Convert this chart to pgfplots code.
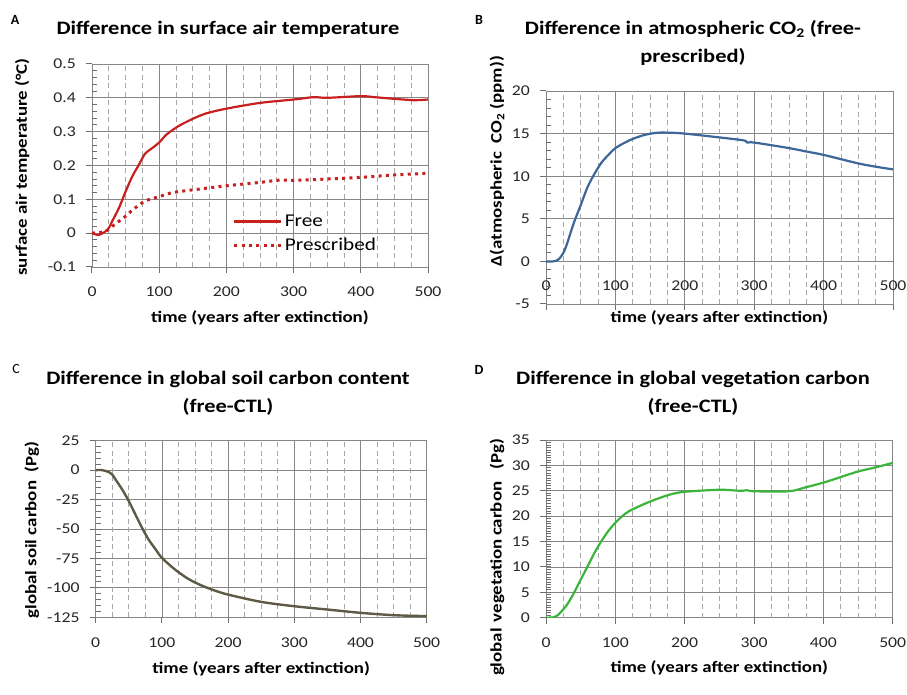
\documentclass[border=0pt]{standalone}
\usepackage{fontspec}
\setmainfont{Carlito}
\newfontfamily\stretchfont{Carlito}[FakeStretch=1.18]
\usepackage{pgfplots}
\pgfplotsset{compat=1.18}

\definecolor{gridgray}{HTML}{868686}
\definecolor{gridlight}{HTML}{A6A6A6}
\definecolor{tickgray}{HTML}{6E6E6E}
\definecolor{freered}{HTML}{C8201F}
\definecolor{co2blue}{HTML}{3D6699}
\definecolor{soilolive}{HTML}{5E5A45}
\definecolor{veggreen}{HTML}{3AB53A}

\pgfplotsset{
  panel/.style={
    scale only axis,
    xmin=0, xmax=500,
    xtick={0,100,...,500},
    xmajorgrids, ymajorgrids,
    major grid style={gridgray, line width=0.8pt},
    axis line style={gridgray, line width=0.8pt},
    tick align=outside,
    major tick length=6pt,
    every tick/.style={tickgray, line width=1pt},
    xtick pos=bottom, ytick pos=left,
    % dashed vertical lines every 25 years, no labels
    extra x ticks={25,50,75,125,150,175,225,250,275,325,350,375,425,450,475},
    extra x tick labels={},
    extra x tick style={major tick length=0pt,
      major grid style={gridlight, line width=0.7pt, dash pattern=on 5pt off 3.5pt}},
    /pgf/number format/assume math mode=true,
    /pgf/number format/fixed,
    tick label style={font=\stretchfont\fontsize{15}{15}\selectfont, text=black!85, inner sep=0pt},
    yticklabel style={anchor=east, xshift=-10pt},
    xticklabel style={anchor=center, yshift=-19pt},
    label style={font=\stretchfont\bfseries\fontsize{16}{16}\selectfont, anchor=center},
    xlabel={time (years after extinction)},
  },
  % short inside marks between the y ticks
  yminor/.style={extra y ticks={#1}, extra y tick labels={},
    extra y tick style={ymajorgrids=false, tick align=inside, major tick length=5pt}},
}

\begin{document}
\begin{tikzpicture}
\path[use as bounding box] (0,0) rectangle (907pt,694pt);

% panel letters and titles
\node[font=\bfseries\fontsize{14}{14}\selectfont] at (15pt,674pt) {A};
\node[font=\bfseries\fontsize{14}{14}\selectfont] at (479pt,674pt) {B};
\node[font=\fontsize{14}{14}\selectfont] at (16pt,325pt) {C};
\node[font=\bfseries\fontsize{14}{14}\selectfont] at (479pt,324pt) {D};

\node[font=\stretchfont\bfseries\fontsize{19}{28}\selectfont] at (228pt,665pt) {Difference in surface air temperature};
\node[font=\stretchfont\bfseries\fontsize{19}{28}\selectfont, align=center] at (693pt,651pt) {Difference in atmospheric CO\textsubscript{2} (free-\\prescribed)};
\node[font=\stretchfont\bfseries\fontsize{19}{28}\selectfont, align=center] at (228pt,301pt) {Difference in global soil carbon content\\(free-CTL)};
\node[font=\stretchfont\bfseries\fontsize{19}{28}\selectfont, align=center] at (693pt,301pt) {Difference in global vegetation carbon\\(free-CTL)};

% A: surface air temperature
\begin{axis}[panel, at={(92pt,427pt)}, anchor=south west, width=336pt, height=203pt,
  ymin=-0.1, ymax=0.5, ytick={-0.1,0,0.1,0.2,0.3,0.4,0.5},
  yminor={-0.08,-0.06,-0.04,-0.02,0.02,0.04,0.06,0.08,0.12,0.14,0.16,0.18,0.22,0.24,0.26,0.28,0.32,0.34,0.36,0.38,0.42,0.44,0.46,0.48},
  ylabel={surface air temperature (°C)},
  xlabel style={at={(axis description cs:0.5,-0.251)}},
  ylabel style={at={(axis description cs:-0.208,0.493)}},
  legend style={at={(axis description cs:0.41,0.165)}, anchor=west, draw=none, fill=none,
    font=\stretchfont\fontsize{18}{18}\selectfont, row sep=6pt},
  legend cell align=left,
  legend image code/.code={\draw[#1] (0pt,0pt) -- (47pt,0pt);}]
\addplot[freered, line width=2.2pt, smooth, tension=0.5] coordinates {
(0,0) (10,-0.005) (20,0.005) (25,0.015) (30,0.035) (40,0.074) (50,0.123) (60,0.168)
(70,0.203) (75,0.222) (80,0.237) (90,0.252) (100,0.268) (110,0.29) (120,0.305)
(130,0.318) (150,0.338) (170,0.354) (200,0.368) (250,0.385) (300,0.395) (330,0.402)
(350,0.4) (400,0.405) (420,0.402) (450,0.397) (480,0.393) (500,0.395)};
\addplot[freered, line width=3pt, dash pattern=on 3pt off 4.3pt, smooth, tension=0.5] coordinates {
(0,0) (20,0.005) (30,0.02) (40,0.035) (50,0.05) (60,0.068) (70,0.083) (80,0.096)
(100,0.108) (120,0.12) (150,0.128) (200,0.14) (250,0.15) (280,0.157) (300,0.156)
(350,0.16) (400,0.165) (450,0.172) (500,0.177)};
\legend{Free, Prescribed}
\end{axis}

% B: atmospheric CO2
\begin{axis}[panel, at={(546pt,390pt)}, anchor=south west, width=347pt, height=213pt,
  ymin=-5, ymax=20, ytick={-5,0,...,20},
  yminor={-4,-3,-2,-1,1,2,3,4,6,7,8,9,11,12,13,14,16,17,18,19},
  xticklabel style={yshift=43pt},
  ylabel={Δ(atmospheric\ \ CO\textsubscript{2} (ppm))},
  xlabel style={at={(axis description cs:0.5,-0.066)}},
  ylabel style={at={(axis description cs:-0.141,0.67)}}]
\addplot[co2blue, line width=2.2pt, smooth, tension=0.5] coordinates {
(0,0) (10,0) (15,0.08) (20,0.4) (25,1) (30,2) (40,4.5) (50,6.6) (60,8.75) (70,10.3)
(80,11.6) (90,12.5) (100,13.3) (120,14.2) (140,14.8) (160,15.1) (180,15.1) (200,15.0)
(250,14.55) (285,14.2) (290,13.95) (300,13.95) (350,13.3) (375,12.9) (400,12.5)
(450,11.5) (480,11.05) (500,10.8)};
\end{axis}

% C: soil carbon
\begin{axis}[panel, at={(95.7pt,76.7pt)}, anchor=south west, width=331pt, height=176.6pt,
  ymin=-125, ymax=25, ytick={-125,-100,...,25},
  yminor={-120,-115,...,20},
  ylabel={global soil carbon\ \ (Pg)},
  xlabel style={at={(axis description cs:0.5,-0.289)}},
  ylabel style={at={(axis description cs:-0.193,0.494)}}]
\addplot[soilolive, line width=2.4pt, smooth, tension=0.5] coordinates {
(0,0) (10,0) (20,-1.7) (25,-3.7) (30,-8) (40,-16.4) (50,-26.3) (60,-37.7) (70,-49)
(80,-59) (90,-66.9) (100,-74.5) (120,-84.5) (140,-92.4) (160,-98) (180,-102.3)
(200,-105.7) (250,-111.9) (300,-115.6) (350,-118.4) (400,-121.2) (450,-123.2) (500,-124)};
\end{axis}

% D: vegetation carbon
\begin{axis}[panel, at={(546pt,76.3pt)}, anchor=south west, width=346.7pt, height=177.7pt,
  ymin=0, ymax=35, ytick={0,5,...,35},
  yminor={0.5,1,...,34.5},
  ylabel={global\hspace{6pt}vegetation\hspace{3pt}carbon\hspace{12pt}(Pg)},
  xlabel style={at={(axis description cs:0.5,-0.281)}},
  ylabel style={at={(axis description cs:-0.141,0.339)}}]
\addplot[veggreen, line width=2.2pt, smooth, tension=0.5] coordinates {
(0,0) (10,0.07) (15,0.3) (20,0.9) (30,2.5) (40,4.8) (50,7.5) (60,10.1) (70,12.8)
(80,15.1) (90,17.1) (100,18.7) (110,20) (120,21) (140,22.3) (160,23.4) (180,24.3)
(200,24.8) (250,25.2) (280,25.0) (290,25.1) (300,24.9) (350,24.9) (375,25.7) (400,26.6)
(425,27.7) (450,28.8) (475,29.6) (500,30.5)};
\end{axis}
\end{tikzpicture}
\end{document}
